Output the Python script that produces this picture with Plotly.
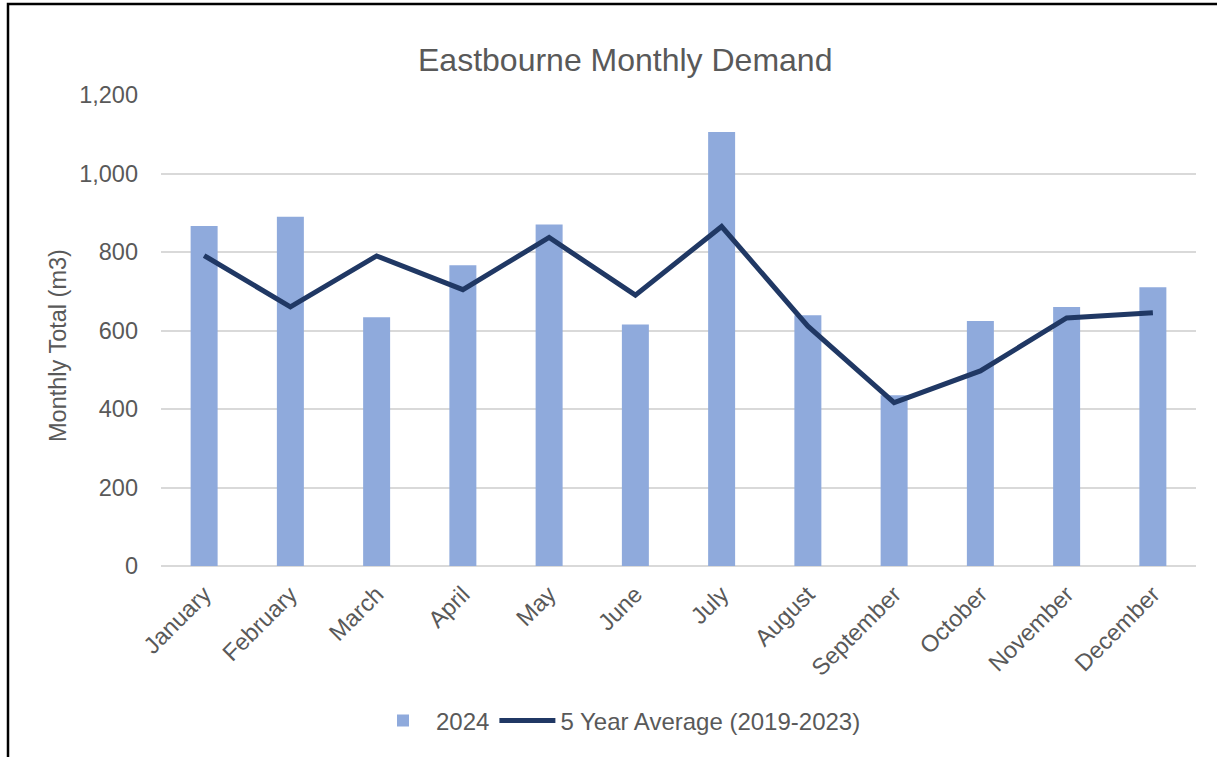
import plotly.graph_objects as go

# Monthly demand data (m3)
months = ["January", "February", "March", "April", "May", "June",
          "July", "August", "September", "October", "November", "December"]
demand_2024 = [866, 890, 634, 766, 870, 615, 1106, 639, 435, 624, 660, 710]
five_year_avg = [791, 660, 790, 704, 837, 690, 865, 611, 416, 497, 632, 645]

TEXT = "#595959"
FONT = "Liberation Sans, Arial, sans-serif"

# Plot-area geometry in pixels
W, H = 1217, 757
L, R, T, B = 161, 21, 95, 191
PW, PH = W - L - R, H - T - B


def px_x(x):
    return (x - L) / PW


def px_y(y):
    return (H - B - y) / PH


fig = go.Figure()
fig.add_trace(go.Bar(
    x=months, y=demand_2024, name="2024",
    marker=dict(color="#8FAADC", line=dict(width=0)),
))
fig.add_trace(go.Scatter(
    x=months, y=five_year_avg, name="5 Year Average (2019-2023)",
    mode="lines", line=dict(color="#203864", width=5),
))

fig.update_layout(
    width=W, height=H,
    margin=dict(l=L, r=R, t=T, b=B),
    paper_bgcolor="white", plot_bgcolor="white",
    font=dict(family=FONT, color=TEXT, size=23),
    bargap=0.687,
    showlegend=True,
    legend=dict(orientation="h", x=px_x(618), xanchor="center",
                y=px_y(721), yanchor="middle",
                font=dict(size=24, color=TEXT), itemwidth=56,
                tracegroupgap=0,
                bgcolor="rgba(0,0,0,0)"),
    xaxis=dict(tickangle=-45, showgrid=False, showline=False,
               ticks="", ticklabelstandoff=9,
               tickfont=dict(size=23.5, color=TEXT)),
    yaxis=dict(range=[0, 1200], dtick=200, tickformat=",",
               showgrid=True, gridcolor="#D9D9D9", gridwidth=1.5,
               zeroline=True, zerolinecolor="#D9D9D9", zerolinewidth=1.5,
               showline=False, ticks="", ticklabelstandoff=22,
               tickfont=dict(size=23.5, color=TEXT)),
    annotations=[
        dict(text="Eastbourne Monthly Demand", xref="paper", yref="paper",
             x=px_x(625), y=px_y(60), xanchor="center", yanchor="middle",
             showarrow=False, font=dict(size=32, color=TEXT)),
        dict(text="Monthly Total (m3)", xref="paper", yref="paper",
             x=px_x(58), y=px_y(346), xanchor="center", yanchor="middle",
             textangle=-90, showarrow=False, font=dict(size=23.5, color=TEXT)),
    ],
    shapes=[
        dict(type="rect", xref="paper", yref="paper",
             x0=px_x(8), x1=px_x(1240), y0=px_y(790), y1=px_y(4),
             line=dict(color="black", width=2.5), fillcolor="rgba(0,0,0,0)"),
    ],
)

fig.write_html("out.html")
